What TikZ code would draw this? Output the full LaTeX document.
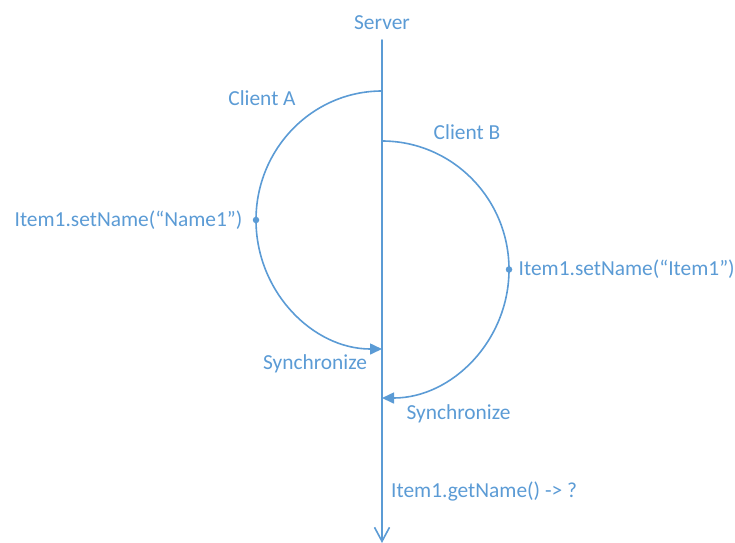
\documentclass[tikz,border=0pt]{standalone}
\usepackage{fontspec}
\setmainfont{Carlito}
\usetikzlibrary{arrows.meta,positioning}
\definecolor{seqblue}{RGB}{91,155,213}

\begin{document}
\begin{tikzpicture}
		[x=1pt,y=1pt,line cap=round,
		%Styles
		flow line/.style={seqblue,line width=1.6pt},
		sync tip/.style={-{Triangle[length=12pt,width=11pt]}},
		call text/.style={text=seqblue,inner sep=0pt,font=\fontsize{21.4}{25}\selectfont},
		dot/.style={circle,inner sep=0pt,minimum size=6.5pt,fill=seqblue}
		]
		\useasboundingbox (0,0) rectangle (735,-542);
		
		%Server line
		\coordinate (srvTop) at (382,-40);
		\coordinate (srvEnd) at (382,-543);
		\coordinate (aTop) at (382,-91);
		\coordinate (aEnd) at (382,-349);
		\coordinate (bTop) at (382,-141);
		\coordinate (bEnd) at (382,-398);
		\draw[flow line,-{Straight Barb[length=14pt,width=15pt]}] (srvTop) -- (srvEnd);
		\node[call text,anchor=base] (server) at (382,-29) {Server};
		
		%Client A
		\draw[flow line,sync tip] (aTop) arc[start angle=90,end angle=270,x radius=126pt,y radius=129pt];
		\node[dot] (setA) at (256,-220) {};
		\node[call text,anchor=base] (clientA) at (262,-105) {Client A};
		\node[call text,left=10pt of setA] (callA) {Item1.setName(“Name1”)};
		\node[call text,anchor=base] (syncA) at (315,-369) {Synchronize};
		
		%Client B
		\draw[flow line,sync tip] (bTop) arc[start angle=90,end angle=-90,x radius=127pt,y radius=128.5pt];
		\node[dot] (setB) at (509,-269.5) {};
		\node[call text,anchor=base] (clientB) at (467,-139) {Client B};
		\node[call text,right=6pt of setB] (callB) {Item1.setName(“Item1”)};
		\node[call text,anchor=base] (syncB) at (458.5,-419) {Synchronize};
		
		%Result
		\node[call text,anchor=base west] (getName) at (391,-497) {Item1.getName() -> ?};
	\end{tikzpicture}
\end{document}
